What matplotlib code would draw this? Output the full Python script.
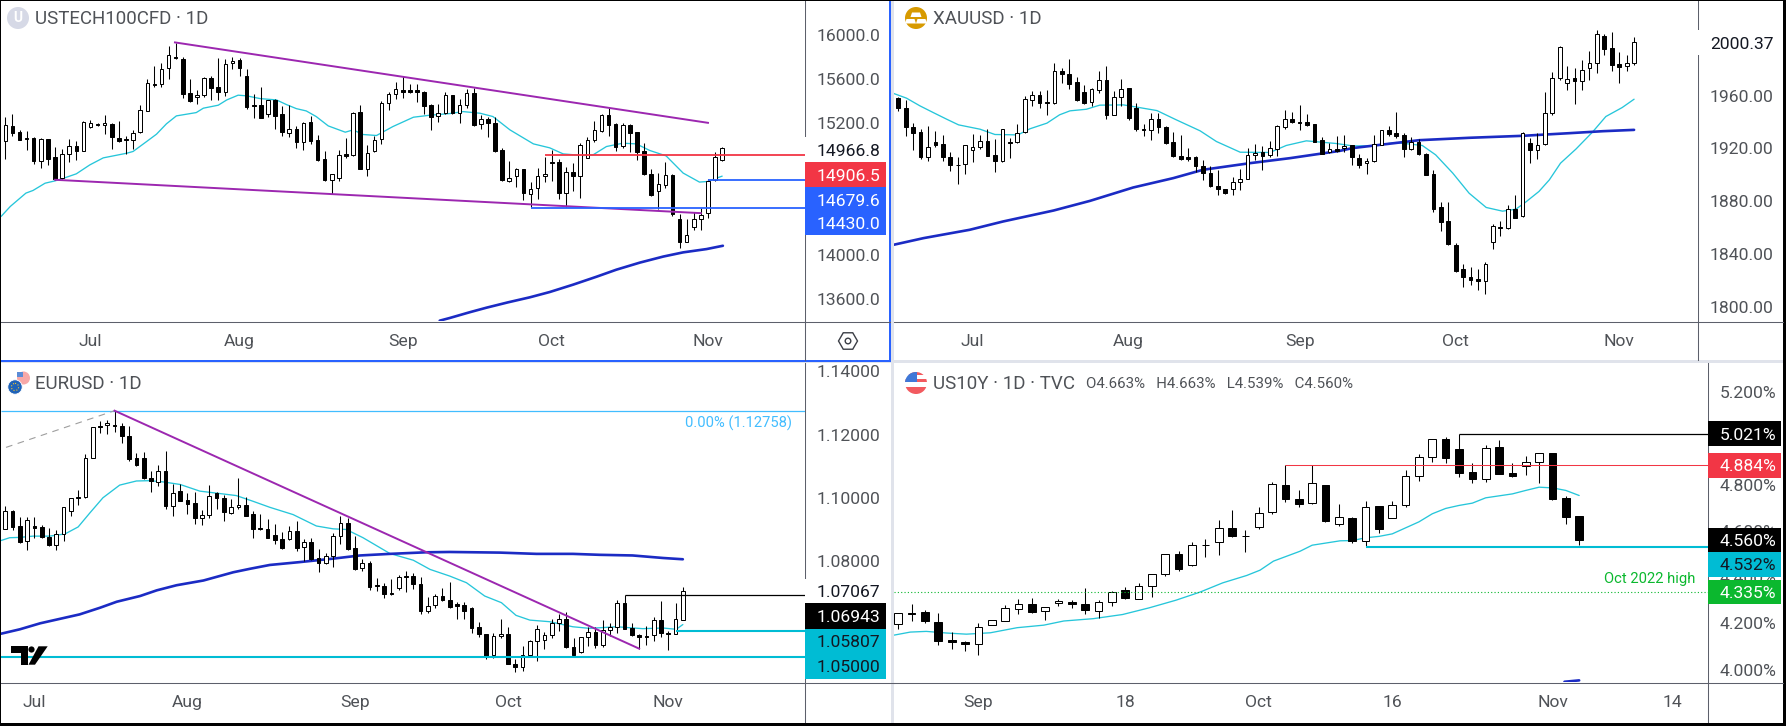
"""Four-panel daily candlestick snapshot: USTECH100, XAUUSD, EURUSD, US10Y."""
import matplotlib
matplotlib.use("Agg")
import matplotlib.pyplot as plt
from matplotlib.lines import Line2D
from matplotlib.patches import Circle, Polygon, Rectangle, RegularPolygon

plt.rcParams["font.family"] = ["Roboto", "DejaVu Sans"]

W, H = 1786, 726
TICK_FS = 12.6
GREY_TXT = "#4f5257"
AXIS_LINE = "#5d606b"
CYAN_MA = "#26c6da"
NAVY_MA = "#1b2bc4"
PURPLE = "#9c27b0"
RED = "#f23645"
BLUE = "#2962ff"
TEAL = "#00bcd4"
GREEN = "#0bb82e"
FIB = "#42bdff"

# (open, high, low, close)
NAS = [
    (15032,15250,14875,15177),(15168,15280,15075,15111),(15114,15135,15044,15047),(15063,15126,14948,15051),
    (15063,15069,14821,14848),(14851,15063,14785,15051),(15051,15054,14812,14875),(14887,14981,14682,14688),
    (14694,14963,14688,14914),(14914,15051,14845,14987),(14987,15035,14863,14942),(14942,15214,14939,15211),
    (15157,15226,15151,15193),(15187,15202,15171,15177),(15177,15268,15099,15193),(15187,15202,14963,15066),
    (15060,15217,15023,15038),(15051,15075,14920,15041),(15041,15132,14963,15111),(15114,15362,15111,15313),
    (15310,15595,15310,15558),(15555,15716,15528,15543),(15549,15740,15528,15685),(15694,15897,15600,15812),
    (15800,15927,15782,15791),(15776,15794,15428,15465),(15468,15597,15392,15395),(15431,15498,15374,15450),
    (15450,15619,15438,15604),(15604,15625,15410,15513),(15522,15785,15410,15477),(15483,15776,15447,15731),
    (15740,15800,15688,15758),(15767,15785,15628,15700),(15622,15685,15322,15347),(15359,15459,15247,15350),
    (15359,15522,15241,15247),(15277,15407,15256,15404),(15407,15416,15144,15265),(15277,15353,15075,15120),
    (15111,15359,15066,15141),(15141,15171,14966,15029),(15029,15205,14954,15202),(15205,15262,15011,15038),
    (15041,15090,14854,14863),(14869,14945,14673,14676),(14676,14739,14549,14739),(14694,14954,14667,14911),
    (14914,15063,14884,14902),(14905,15295,14902,15292),(15295,15359,14776,14782),(14779,14996,14712,14923),
    (14939,15081,14930,15047),(15051,15395,15011,15377),(15377,15480,15319,15465),(15465,15567,15419,15504),
    (15495,15622,15425,15477),(15495,15552,15474,15483),(15495,15552,15392,15483),(15477,15492,15277,15356),
    (15362,15368,15138,15256),(15259,15371,15211,15292),(15289,15477,15280,15450),(15453,15456,15277,15286),
    (15292,15416,15202,15365),(15359,15507,15332,15468),(15468,15513,15171,15180),(15187,15271,15144,15232),
    (15232,15250,15066,15193),(15196,15256,14936,14939),(14951,14972,14673,14676),(14670,14854,14664,14694),
    (14715,14788,14612,14776),(14779,14782,14500,14558),(14552,14661,14434,14600),(14603,14791,14503,14715),
    (14715,14893,14658,14730),(14839,14948,14673,14833),(14842,14869,14506,14558),(14558,14794,14434,14752),
    (14752,14833,14576,14712),(14712,15014,14521,14996),(14884,15066,14878,15047),(15047,15220,15026,15132),
    (15129,15277,15117,15271),(15268,15332,15081,15180),(15190,15202,14939,14978),(14993,15202,14969,15177),
    (15180,15190,14930,15108),(15114,15120,14863,14936),(14945,15020,14727,14730),(14736,14779,14537,14540),
    (14576,14748,14416,14642),(14639,14842,14606,14727),(14727,14733,14355,14373),(14328,14370,14059,14116),
    (14116,14325,14113,14180),(14250,14392,14222,14325),(14325,14425,14228,14358),(14379,14688,14331,14670),
    (14676,14933,14673,14887),(14860,14981,14857,14966.8),
]
NAS_MA20 = [
    (-0.6,14349),(0.7,14440),(2.9,14561),(3.9,14585),(5.6,14651),(7.0,14672),(8.2,14696),(10.0,14736),
    (11.9,14817),(13.8,14881),(17.1,14923),(18.0,14939),(19.9,15029),(21.3,15096),(22.7,15190),(24.1,15262),
    (26.9,15292),(27.9,15332),(30.0,15359),(31.2,15407),(32.8,15450),(34.0,15444),(35.9,15419),(38.2,15407),
    (39.6,15365),(41.0,15328),(42.4,15307),(43.8,15256),(45.5,15171),(47.9,15114),(49.0,15135),(50.4,15093),
    (52.3,15084),(54.6,15165),(57.5,15250),(59.8,15268),(62.6,15283),(64.5,15301),(66.9,15286),(68.7,15256),
    (71.1,15135),(74.4,15008),(76.7,14972),(78.6,14917),(81.4,14902),(82.8,14908),(84.7,14984),(87.0,15014),
    (88.9,15008),(90.8,14948),(93.1,14899),(95.5,14743),(97.8,14661),(99.0,14667),(100.2,14697),(101,14715),
]
NAS_MA200 = [
    (61.2,13403),(62.6,13427),(65.4,13479),(67.8,13521),(70.8,13569),(73.9,13615),(76.7,13663),(80,13730),
    (83.3,13802),(86.1,13866),(89.4,13930),(92.7,13985),(95.5,14023),(98.8,14053),(101.1,14083),
]

GOLD = [
    (1958.2,1958.7,1947.9,1950.2),(1950.4,1956.7,1929.7,1935.8),(1936.3,1939.1,1918.9,1932.0),(1932.3,1934.5,1912.3,1913.1),
    (1913.3,1937.0,1910.1,1920.9),(1924.7,1933.3,1921.4,1922.7),(1923.2,1930.2,1910.8,1913.1),(1913.6,1917.4,1903.0,1907.1),
    (1907.1,1913.1,1892.7,1907.6),(1908.1,1922.7,1900.8,1922.4),(1918.6,1930.7,1909.8,1920.9),(1920.7,1930.2,1919.9,1925.4),
    (1925.4,1934.5,1914.4,1914.6),(1914.9,1927.2,1902.5,1910.1),(1910.1,1934.5,1909.6,1934.5),(1924.7,1927.7,1912.8,1923.7),
    (1924.7,1938.3,1924.4,1931.5),(1932.3,1959.7,1932.0,1957.2),(1956.4,1963.5,1952.4,1960.2),(1960.2,1963.5,1950.9,1954.7),
    (1954.9,1964.3,1945.6,1954.2),(1954.2,1984.7,1953.9,1978.4),(1978.6,1980.6,1969.8,1975.9),(1976.1,1987.4,1965.3,1969.0),
    (1970.1,1974.1,1955.9,1956.4),(1962.5,1968.0,1953.7,1954.2),(1954.9,1965.8,1952.2,1965.0),(1964.5,1978.6,1962.2,1971.6),
    (1971.6,1982.4,1942.6,1944.9),(1945.6,1963.5,1945.4,1958.7),(1958.7,1972.3,1951.7,1964.8),(1965.5,1965.5,1941.1,1943.3),
    (1950.9,1954.2,1933.5,1934.3),(1934.5,1938.3,1929.5,1933.8),(1933.8,1946.6,1926.0,1942.1),(1942.1,1946.6,1932.0,1935.8),
    (1936.3,1937.0,1923.2,1924.2),(1924.7,1932.3,1913.6,1913.9),(1914.1,1930.2,1911.3,1911.6),(1913.3,1920.4,1910.8,1912.3),
    (1913.3,1913.9,1902.3,1906.3),(1906.8,1911.3,1896.2,1901.0),(1901.5,1906.8,1890.9,1891.2),(1891.4,1903.3,1884.9,1888.9),
    (1889.2,1889.4,1885.6,1885.9),(1889.2,1898.5,1884.9,1894.5),(1894.5,1904.5,1888.7,1896.7),(1896.7,1920.2,1896.5,1914.9),
    (1914.9,1923.4,1911.3,1916.4),(1917.1,1921.9,1903.8,1914.6),(1914.9,1925.7,1913.1,1920.2),(1919.4,1937.5,1914.6,1936.8),
    (1936.5,1949.1,1935.0,1942.1),(1942.1,1947.6,1939.1,1939.6),(1940.1,1952.9,1934.0,1939.3),(1939.8,1945.9,1937.0,1938.0),
    (1938.3,1938.6,1924.9,1925.2),(1926.2,1928.5,1915.4,1916.1),(1916.9,1923.7,1916.4,1919.4),(1919.4,1929.5,1917.4,1918.1),
    (1920.2,1930.2,1916.9,1921.7),(1922.4,1922.7,1907.6,1913.3),(1912.6,1915.6,1905.5,1907.1),(1908.8,1912.6,1900.8,1910.3),
    (1910.1,1930.2,1909.8,1923.2),(1922.9,1933.8,1922.7,1933.8),(1933.8,1937.0,1929.7,1930.5),(1931.5,1947.4,1928.2,1929.5),
    (1930.0,1931.5,1913.6,1919.4),(1919.4,1928.5,1919.1,1924.7),(1925.2,1927.0,1915.1,1915.4),(1915.9,1916.4,1899.5,1900.2),
    (1900.5,1903.8,1872.0,1874.5),(1875.6,1879.6,1857.7,1864.0),(1865.2,1879.6,1846.6,1847.8),(1846.8,1848.3,1826.7,1826.9),
    (1828.9,1832.5,1814.8,1822.4),(1822.6,1830.4,1816.3,1820.1),(1821.1,1828.7,1813.1,1819.4),(1819.4,1834.0,1810.0,1832.7),
    (1849.1,1862.7,1844.1,1861.2),(1860.4,1864.7,1853.4,1859.4),(1859.4,1877.1,1858.7,1874.0),(1874.0,1884.6,1867.5,1867.7),
    (1868.5,1932.3,1868.2,1932.0),(1923.9,1927.7,1908.6,1919.1),(1919.1,1931.5,1912.1,1922.4),(1923.2,1962.7,1922.9,1947.1),
    (1947.1,1977.6,1945.4,1973.6),(1973.6,1997.3,1972.1,1997.0),(1969.3,1982.4,1964.5,1972.3),(1973.1,1980.6,1953.9,1970.6),
    (1970.6,1986.9,1963.8,1979.1),(1980.6,1993.7,1971.8,1984.4),(1984.4,2009.6,1977.1,2006.3),(2004.8,2006.3,1990.7,1995.5),
    (1995.8,2008.1,1978.6,1983.4),(1983.7,1993.0,1969.8,1981.9),(1982.7,1990.7,1978.9,1984.9),(1984.4,2004.3,1983.2,2000.37),
]
GOLD_MA20 = [
    (-0.6,1961.5),(1.1,1958.0),(2.9,1952.2),(4.7,1947.1),(6.5,1942.1),(8.1,1937.8),(11.0,1934.5),(13.0,1930.5),
    (16.1,1930.2),(17.7,1934.8),(20.0,1939.1),(21.7,1945.4),(23.1,1948.4),(25.3,1949.6),(27.1,1952.7),(30.3,1952.9),
    (32.1,1951.2),(34.8,1948.6),(37.4,1941.6),(40.6,1933.3),(42.8,1925.2),(46.0,1917.1),(50.0,1916.9),(52.2,1922.2),
    (54.9,1925.7),(58.9,1923.7),(61.1,1921.9),(63.4,1921.9),(67.0,1924.4),(70.5,1922.2),(72.3,1915.1),(74.6,1901.3),
    (76.8,1886.1),(79.1,1875.3),(81.3,1872.5),(83.1,1874.0),(84.4,1879.3),(86.2,1887.4),(87.6,1896.2),(89.1,1908.8),
    (91.2,1919.6),(93.4,1932.3),(95.2,1944.1),(97.4,1950.9),(99,1957.2),
]
GOLD_MA200 = [
    (-0.6,1847.1),(3.4,1852.1),(9.6,1858.4),(14.1,1864.7),(20.9,1873.0),(25.8,1880.3),(31.6,1890.4),(37.0,1897.5),
    (41.0,1903.8),(47.3,1908.8),(52.7,1912.6),(59.4,1918.1),(61.1,1920.2),(65.6,1923.2),(70.1,1926.2),(76.8,1928.0),
    (84.0,1929.5),(90.3,1931.5),(94.8,1933.0),(99,1934.0),
]

EUR = [
    (1.0904,1.0975,1.0903,1.0959),(1.0960,1.0963,1.0898,1.0910),(1.0912,1.0940,1.0859,1.0862),(1.0864,1.0940,1.0835,1.0930),
    (1.0912,1.0941,1.0873,1.0907),(1.0909,1.0914,1.0875,1.0876),(1.0878,1.0906,1.0849,1.0851),(1.0852,1.0899,1.0835,1.0886),
    (1.0886,1.0972,1.0866,1.0971),(1.0958,1.1001,1.0945,1.1000),(1.1000,1.1026,1.0977,1.1005),(1.1005,1.1140,1.1001,1.1126),
    (1.1126,1.1225,1.1125,1.1224),(1.1227,1.1242,1.1204,1.1224),(1.1230,1.1246,1.1203,1.1236),(1.1230,1.12758,1.1209,1.1227),
    (1.1227,1.1236,1.1175,1.1197),(1.1195,1.1227,1.1117,1.1124),(1.1126,1.1143,1.1102,1.1103),(1.1126,1.1146,1.1061,1.1062),
    (1.1064,1.1087,1.1020,1.1053),(1.1052,1.1105,1.1037,1.1085),(1.1085,1.1148,1.0967,1.0974),(1.0975,1.1044,1.0945,1.1016),
    (1.1022,1.1043,1.0991,1.0992),(1.0993,1.1017,1.0950,1.0982),(1.0984,1.1019,1.0919,1.0936),(1.0936,1.0964,1.0914,1.0946),
    (1.0946,1.1041,1.0936,1.1006),(1.1016,1.1020,1.0966,1.1000),(1.1001,1.1009,1.0929,1.0955),(1.0952,1.0996,1.0951,1.0971),
    (1.0971,1.1064,1.0967,1.0978),(1.0978,1.1003,1.0942,1.0945),(1.0949,1.0959,1.0875,1.0904),(1.0905,1.0950,1.0898,1.0901),
    (1.0903,1.0933,1.0873,1.0875),(1.0883,1.0918,1.0856,1.0869),(1.0871,1.0893,1.0840,1.0841),(1.0871,1.0912,1.0869,1.0896),
    (1.0896,1.0928,1.0834,1.0844),(1.0845,1.0871,1.0801,1.0860),(1.0861,1.0875,1.0806,1.0809),(1.0810,1.0840,1.0768,1.0795),
    (1.0795,1.0827,1.0793,1.0817),(1.0817,1.0890,1.0783,1.0880),(1.0880,1.0944,1.0856,1.0921),(1.0921,1.0938,1.0835,1.0840),
    (1.0842,1.0880,1.0774,1.0775),(1.0778,1.0809,1.0771,1.0795),(1.0796,1.0800,1.0709,1.0721),(1.0726,1.0749,1.0706,1.0722),
    (1.0722,1.0733,1.0686,1.0696),(1.0700,1.0745,1.0695,1.0697),(1.0715,1.0757,1.0709,1.0751),(1.0754,1.0771,1.0705,1.0751),
    (1.0754,1.0764,1.0712,1.0728),(1.0729,1.0751,1.0633,1.0643),(1.0643,1.0688,1.0636,1.0659),(1.0662,1.0697,1.0654,1.0691),
    (1.0691,1.0716,1.0676,1.0677),(1.0678,1.0735,1.0654,1.0656),(1.0665,1.0672,1.0617,1.0659),(1.0662,1.0672,1.0617,1.0645),
    (1.0654,1.0656,1.0575,1.0591),(1.0594,1.0609,1.0563,1.0570),(1.0572,1.0572,1.0491,1.0500),(1.0504,1.0575,1.0494,1.0565),
    (1.0564,1.0619,1.0559,1.0571),(1.0571,1.0593,1.0475,1.0476),(1.0476,1.0493,1.0450,1.0467),(1.0466,1.0533,1.0453,1.0505),
    (1.0505,1.0552,1.0503,1.0549),(1.0549,1.0599,1.0485,1.0586),(1.0552,1.0579,1.0523,1.0568),(1.0568,1.0617,1.0557,1.0606),
    (1.0606,1.0633,1.0582,1.0618),(1.0618,1.0641,1.0528,1.0529),(1.0530,1.0559,1.0498,1.0506),(1.0514,1.0563,1.0512,1.0562),
    (1.0562,1.0594,1.0533,1.0577),(1.0577,1.0593,1.0526,1.0535),(1.0535,1.0616,1.0529,1.0584),(1.0584,1.0605,1.0565,1.0592),
    (1.0594,1.0677,1.0573,1.0669),(1.0669,1.06943,1.0586,1.0588),(1.0591,1.0606,1.0565,1.0567),(1.0568,1.0570,1.0525,1.0562),
    (1.0565,1.0596,1.0538,1.0562),(1.0567,1.0626,1.0548,1.0615),(1.0615,1.0676,1.0562,1.0573),(1.0574,1.0580,1.0520,1.0570),
    (1.0571,1.0670,1.0570,1.0620),(1.0615,1.0720,1.0614,1.07067),
]
EUR_MA20 = [
    (-0.6,1.0866),(0.6,1.0875),(2.0,1.0876),(3.8,1.0880),(6.1,1.0880),(8.2,1.0887),(10.0,1.0909),(11.6,1.0953),
    (13.4,1.1001),(15.7,1.1041),(18.0,1.1054),(19.8,1.1055),(21.7,1.1051),(24.0,1.1043),(26.7,1.1022),(28.5,1.1017),
    (31.7,1.1008),(34.0,1.0990),(36.3,1.0971),(39.5,1.0948),(42.7,1.0912),(45.0,1.0903),(46.8,1.0901),(49.1,1.0875),
    (52.8,1.0825),(56.0,1.0804),(58.3,1.0775),(61.0,1.0754),(63.3,1.0733),(65.8,1.0691),(68.1,1.0670),(70.1,1.0630),
    (72.0,1.0615),(74.7,1.0610),(76.5,1.0601),(77.9,1.0594),(80.2,1.0589),(83.9,1.0594),(87.5,1.0588),(90.3,1.0590),
    (92.1,1.0586),(93,1.0601),
]
EUR_MA200 = [
    (-0.6,1.0572),(2.0,1.0586),(4.8,1.0605),(7.5,1.0619),(10.2,1.0633),(13.0,1.0654),(15.3,1.0673),(18.5,1.0691),
    (20.8,1.0709),(23.5,1.0725),(27.2,1.0740),(31.3,1.0766),(33.6,1.0777),(36.3,1.0789),(40.4,1.0798),(45.0,1.0809),
    (48.7,1.0819),(52.8,1.0824),(57.8,1.0829),(61.0,1.0830),(67.9,1.0828),(72.9,1.0824),(77.9,1.0824),(81.6,1.0821),
    (86.1,1.0819),(90.3,1.0811),(93,1.0807),
]

BOND = [
    (4.195,4.243,4.177,4.243),(4.244,4.283,4.208,4.241),(4.249,4.257,4.200,4.208),(4.205,4.244,4.107,4.122),
    (4.129,4.162,4.090,4.117),(4.119,4.125,4.081,4.109),(4.109,4.201,4.064,4.184),(4.192,4.214,4.191,4.214),
    (4.210,4.279,4.208,4.266),(4.264,4.306,4.241,4.283),(4.283,4.311,4.246,4.247),(4.253,4.270,4.215,4.270),
    (4.287,4.306,4.277,4.296),(4.292,4.300,4.267,4.282),(4.283,4.354,4.241,4.256),(4.253,4.300,4.224,4.292),
    (4.292,4.341,4.277,4.335),(4.344,4.358,4.306,4.308),(4.305,4.375,4.303,4.361),(4.361,4.413,4.315,4.413),
    (4.413,4.501,4.403,4.499),(4.499,4.512,4.427,4.437),(4.452,4.553,4.450,4.538),(4.540,4.564,4.488,4.537),
    (4.551,4.648,4.494,4.612),(4.612,4.691,4.574,4.576),(4.579,4.603,4.509,4.576),(4.616,4.702,4.610,4.679),
    (4.681,4.811,4.671,4.802),(4.798,4.884,4.727,4.736),(4.737,4.777,4.704,4.718),(4.720,4.884,4.718,4.806),
    (4.798,4.798,4.639,4.641),(4.630,4.715,4.623,4.659),(4.655,4.659,4.548,4.558),(4.558,4.730,4.535,4.702),
    (4.707,4.707,4.591,4.610),(4.655,4.730,4.654,4.711),(4.710,4.864,4.705,4.837),(4.839,4.933,4.816,4.919),
    (4.921,4.996,4.898,4.996),(4.996,5.005,4.894,4.917),(4.953,5.021,4.834,4.852),(4.854,4.894,4.808,4.826),
    (4.826,4.972,4.812,4.958),(4.962,4.994,4.844,4.848),(4.849,4.894,4.834,4.839),(4.880,4.924,4.842,4.896),
    (4.900,4.936,4.808,4.936),(4.936,4.937,4.734,4.736),(4.743,4.750,4.630,4.662),(4.663,4.663,4.539,4.560),
]
BOND_MA20 = [
    (-0.3,4.149),(0.9,4.162),(2.1,4.165),(3.6,4.158),(5.1,4.153),(6.9,4.159),(8.9,4.181),(10.9,4.192),
    (12.4,4.210),(14.6,4.220),(16.8,4.238),(18.8,4.267),(20.8,4.300),(22.6,4.335),(24.3,4.375),(26.1,4.407),
    (27.1,4.430),(28.1,4.469),(30.1,4.512),(31.0,4.538),(33.1,4.557),(34.0,4.558),(35.0,4.570),(36.0,4.576),
    (37.0,4.587),(38.0,4.613),(39.0,4.639),(40.0,4.674),(41.0,4.697),(42.0,4.710),(43.0,4.720),(44.0,4.743),
    (46.0,4.760),(47.0,4.775),(48.0,4.789),(49.0,4.786),(50.0,4.775),(51.0,4.753),
]
BOND_MA200 = [(49.9,3.947),(51,3.953)]


def add_panel(fig, box, xlim, ylim, yticks, fmt, xticks, xlabels):
    """box is left, top, right, bottom in image pixels."""
    left, top, right, bottom = box
    ax = fig.add_axes([left / W, 1 - bottom / H, (right - left) / W, (bottom - top) / H], zorder=1)
    ax.set_xlim(*xlim)
    ax.set_ylim(*ylim)
    for s in ax.spines.values():
        s.set_visible(False)
    ax.yaxis.tick_right()
    ax.set_yticks(yticks)
    ax.set_yticklabels([fmt.format(v) for v in yticks], fontsize=TICK_FS, color=GREY_TXT)
    ax.set_xticks(xticks)
    ax.set_xticklabels(xlabels, fontsize=TICK_FS, color=GREY_TXT)
    ax.tick_params(axis="y", length=0, pad=8.6)
    ax.tick_params(axis="x", length=0, pad=9.5)
    return ax


def candles(ax, rows, width=0.5):
    for i, (o, h, l, c) in enumerate(rows):
        ax.plot([i, i], [l, h], color="black", lw=0.75, zorder=3, solid_capstyle="butt")
        up = c >= o
        ax.add_patch(Rectangle((i - width / 2, min(o, c)), width, abs(c - o),
                               fc="white" if up else "black", ec="black", lw=0.72, zorder=3.1))


def ma_line(ax, pts, color, lw):
    xs, ys = zip(*pts)
    ax.plot(xs, ys, color=color, lw=lw, zorder=2, solid_capstyle="round")


def level(ax, x0, y, color, lw=1.3, ls="-"):
    ax.plot([x0, ax.get_xlim()[1]], [y, y], color=color, lw=lw, ls=ls, zorder=4, solid_capstyle="butt")


def price_tag(ax, text, y, height, fc, tc, box_w):
    # tags get pushed apart on the scale, so y is where the tag sits, not its value
    frac = box_w / (ax.get_window_extent().width)
    ax.add_patch(Rectangle((1.0, y - height / 2), frac, height, transform=ax.get_yaxis_transform(),
                           fc=fc, ec="none", clip_on=False, zorder=6))
    ax.annotate(text, xy=(1.0, y), xycoords=ax.get_yaxis_transform(), xytext=(8.6, 0),
                textcoords="offset points", va="center_baseline", ha="left",
                fontsize=TICK_FS, color=tc, zorder=7, annotation_clip=False)


def draw_frame(bg):
    # price scale and time scale rules
    rules = [
        ((1, 805), (321.5, 321.5)), ((805, 890), (321.5, 321.5)), ((805, 805), (1, 360)),
        ((894, 1783), (321.5, 321.5)), ((1698, 1698), (1, 360)),
        ((1, 894), (682.5, 682.5)), ((805, 805), (363, 722)),
        ((894, 1783), (682.5, 682.5)), ((1708, 1708), (363, 722)),
    ]
    for xs, ys in rules:
        bg.add_line(Line2D(xs, ys, color=AXIS_LINE, lw=0.75))
    # light gutters, selected panel outline, outer black edge
    bg.add_patch(Rectangle((0, 360), W, 3, fc="#e0e3eb", ec="none"))
    bg.add_patch(Rectangle((891, 0), 3, H, fc="#e0e3eb", ec="none"))
    bg.add_patch(Rectangle((889, 0), 2, 361, fc=BLUE, ec="none"))
    bg.add_patch(Rectangle((0, 359.5), 891, 2, fc=BLUE, ec="none"))
    bg.add_patch(Rectangle((0, 0), W, 1, fc="black", ec="none"))
    bg.add_patch(Rectangle((0, 0), 1, H, fc="black", ec="none"))
    bg.add_patch(Rectangle((0, 723), W, 3, fc="black", ec="none"))
    bg.add_patch(Rectangle((1783, 0), 3, H, fc="black", ec="none"))


def draw_overlay(top):
    title = dict(fontsize=13.5, color=GREY_TXT, va="center")
    top.text(35, 19, "USTECH100CFD · 1D", **title)
    top.text(933, 19, "XAUUSD · 1D", **title)
    top.text(35, 384, "EURUSD · 1D", **title)
    top.text(933, 384, "US10Y · 1D · TVC", **title)
    top.text(1086, 384, "O4.663%   H4.663%   L4.539%   C4.560%", fontsize=10.8, color=GREY_TXT, va="center")

    # symbol icons
    top.add_patch(Circle((18, 18), 11, fc="#d6d9e6", ec="none"))
    top.text(18, 18.5, "U", fontsize=10, color="white", ha="center", va="center", fontweight="bold")

    top.add_patch(Circle((916, 18), 11, fc="#d79a00", ec="none"))
    for bx, by in [(911, 12.5), (905.5, 19), (916.5, 19)]:
        top.add_patch(Polygon([(bx + 1, by), (bx + 9, by), (bx + 10.5, by + 4.5), (bx - 0.5, by + 4.5)],
                              fc="white", ec="none"))

    top.add_patch(Circle((23.5, 378), 6.5, fc="#f7a8a8", ec="none"))
    top.add_patch(Rectangle((17, 371.5), 6, 5.5, fc="#5b8bd6", ec="none"))
    top.add_patch(Circle((15, 387), 7.2, fc="#1e62b8", ec="white", lw=0.6))
    top.add_patch(Circle((15, 387), 3.6, fc="none", ec="#f2c230", lw=0.8, ls=":"))

    flag = Circle((916, 383), 11, fc="white", ec="none")
    top.add_patch(flag)
    for r in [Rectangle((905, 387), 22, 7, fc="#f25a5f", ec="none"),
              Rectangle((905, 372), 22, 3, fc="#f25a5f", ec="none"),
              Rectangle((905, 378.5), 22, 3, fc="#f25a5f", ec="none"),
              Rectangle((905, 372), 12, 10, fc="#3f78d8", ec="none")]:
        top.add_patch(r)
        r.set_clip_path(flag)

    # chart-settings hexagon on the first time scale
    top.add_patch(RegularPolygon((848, 341), 6, radius=9.5, orientation=3.14159 / 2,
                                 fc="none", ec="#3b3e46", lw=1.0))
    top.add_patch(Circle((848, 341), 2.8, fc="none", ec="#3b3e46", lw=1.0))

    # logo, bottom-left panel
    top.add_patch(Polygon([(11, 646.3), (27.7, 646.3), (27.7, 664.7), (20.7, 664.7), (20.7, 653), (11, 653)],
                          fc="black", ec="none"))
    top.add_patch(Circle((31.5, 649.5), 3.1, fc="black", ec="none"))
    top.add_patch(Polygon([(35, 664.7), (47.7, 646.3), (38.5, 646.3), (28.5, 664.7)], fc="black", ec="none"))


def main():
    fig = plt.figure(figsize=(W / 100, H / 100), dpi=100, facecolor="white")

    bg = fig.add_axes([0, 0, 1, 1], zorder=0)
    bg.set_xlim(0, W)
    bg.set_ylim(H, 0)
    bg.axis("off")
    draw_frame(bg)

    # USTECH100
    ax = add_panel(fig, (1, 1, 804.5, 321), (-0.61, 112.6), (13400, 16305),
                   [13600, 14000, 15200, 15600, 16000], "{:.1f}",
                   [12, 33, 56, 77, 99], ["Jul", "Aug", "Sep", "Oct", "Nov"])
    ma_line(ax, NAS_MA20, CYAN_MA, 0.95)
    ma_line(ax, NAS_MA200, NAVY_MA, 1.9)
    candles(ax, NAS)
    ax.plot([23.9, 99], [15929, 15199], color=PURPLE, lw=1.4, zorder=4)
    ax.plot([7, 98], [14682, 14379], color=PURPLE, lw=1.4, zorder=4)
    level(ax, 76, 14906.5, RED)
    level(ax, 99, 14679.6, BLUE)
    level(ax, 74, 14430.0, BLUE)
    price_tag(ax, "14966.8", 14954, 241, "white", "#131722", 81)
    price_tag(ax, "14906.5", 14727, 227, RED, "white", 81)
    price_tag(ax, "14679.6", 14500, 227, BLUE, "white", 81)
    price_tag(ax, "14430.0", 14289, 212, BLUE, "white", 81)

    # XAUUSD
    ax = add_panel(fig, (894, 1, 1698, 321), (-0.58, 107.6), (1789.4, 2031.5),
                   [1800, 1840, 1880, 1920, 1960], "{:.2f}",
                   [10, 31, 54, 75, 97], ["Jul", "Aug", "Sep", "Oct", "Nov"])
    ma_line(ax, GOLD_MA20, CYAN_MA, 0.95)
    ma_line(ax, GOLD_MA200, NAVY_MA, 1.9)
    candles(ax, GOLD)
    price_tag(ax, "2000.37", 2000.0, 19, "white", "#131722", 82)

    # EURUSD
    ax = add_panel(fig, (1, 363, 804.5, 682), (-0.59, 109.7), (1.04197, 1.14263),
                   [1.08, 1.10, 1.12, 1.14], "{:.5f}",
                   [4, 25, 48, 69, 91], ["Jul", "Aug", "Sep", "Oct", "Nov"])
    ma_line(ax, EUR_MA20, CYAN_MA, 0.95)
    ma_line(ax, EUR_MA200, NAVY_MA, 1.9)
    level(ax, -0.59, 1.12758, FIB, lw=0.9)
    level(ax, -0.59, 1.05000, TEAL, lw=1.5)
    candles(ax, EUR)
    ax.plot([0.1, 15], [1.1160, 1.12758], color="#9e9e9e", lw=0.8, ls=(0, (6, 5)), zorder=4)
    ax.plot([15, 87], [1.12758, 1.0525], color=PURPLE, lw=1.4, zorder=4)
    level(ax, 85, 1.06943, "black", lw=0.9)
    level(ax, 92, 1.05807, TEAL, lw=1.5)
    ax.text(108, 1.1237, "0.00% (1.12758)", fontsize=10.6, color=FIB, ha="right", va="center")
    price_tag(ax, "1.07067", 1.07067, 0.0076, "white", "#131722", 81)
    price_tag(ax, "1.06943", 1.0628, 0.0079, "black", "white", 81)
    price_tag(ax, "1.05807", 1.0549, 0.0079, TEAL, "#131722", 81)
    price_tag(ax, "1.05000", 1.0470, 0.0079, TEAL, "#131722", 81)

    # US10Y
    ax = add_panel(fig, (894, 363, 1708, 682), (-0.32, 60.65), (3.946, 5.3264),
                   [4.0, 4.2, 4.4, 4.6, 4.8, 5.2], "{:.3f}%",
                   [6, 17, 27, 37, 49, 58], ["Sep", "18", "Oct", "16", "Nov", "14"])
    ma_line(ax, BOND_MA20, CYAN_MA, 0.95)
    ma_line(ax, BOND_MA200, NAVY_MA, 1.9)
    level(ax, -0.32, 4.335, GREEN, lw=0.8, ls=(0, (1, 2)))
    level(ax, 29, 4.884, RED, lw=0.75)
    candles(ax, BOND, width=0.575)
    level(ax, 42, 5.021, "black", lw=0.9)
    level(ax, 35, 4.532, TEAL, lw=1.5)
    ax.text(59.7, 4.393, "Oct 2022 high", fontsize=10.6, color=GREEN, ha="right", va="center")
    price_tag(ax, "5.021%", 5.021, 0.108, "black", "white", 73)
    price_tag(ax, "4.884%", 4.884, 0.108, RED, "white", 73)
    price_tag(ax, "4.560%", 4.561, 0.105, "black", "white", 73)
    price_tag(ax, "4.532%", 4.455, 0.106, TEAL, "#131722", 73)
    price_tag(ax, "4.335%", 4.335, 0.105, GREEN, "white", 73)

    top = fig.add_axes([0, 0, 1, 1], zorder=10)
    top.set_xlim(0, W)
    top.set_ylim(H, 0)
    top.axis("off")
    draw_overlay(top)

    fig.savefig("out.png", dpi=100)


if __name__ == "__main__":
    main()
